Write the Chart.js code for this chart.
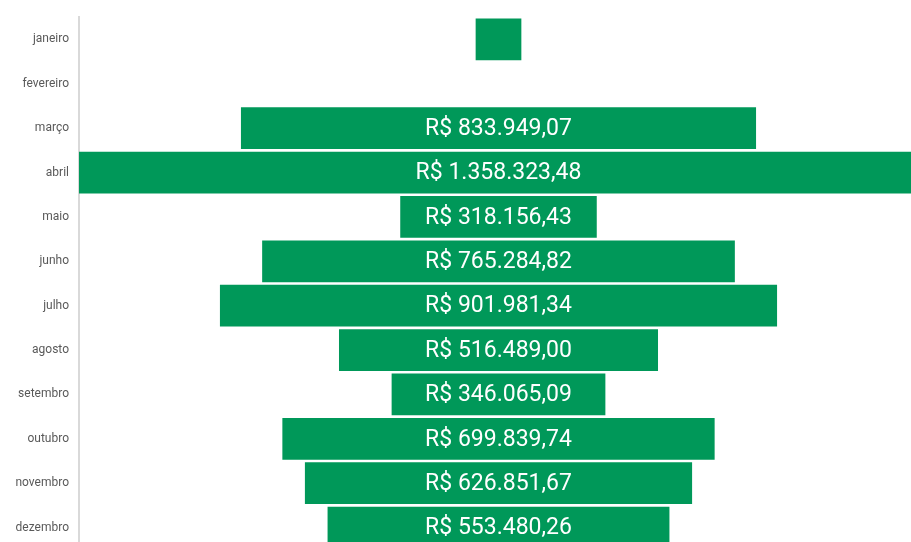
<!DOCTYPE html>
<html>
<head>
<meta charset="utf-8">
<script src="https://cdn.jsdelivr.net/npm/chart.js@4"></script>
<style>
  html, body { margin: 0; padding: 0; background: #fff; overflow: hidden; }
  #funnelChart { display: block; }
</style>
</head>
<body>
<canvas id="funnelChart" width="920" height="567"></canvas>
<script>
// Data
const months = ['janeiro', 'fevereiro', 'março', 'abril', 'maio', 'junho',
  'julho', 'agosto', 'setembro', 'outubro', 'novembro', 'dezembro'];
const totals = [74000, 0, 833949.07, 1358323.48, 318156.43, 765284.82,
  901981.34, 516489.00, 346065.09, 699839.74, 626851.67, 553480.26];

const green = '#009859';
const maxTotal = Math.max(...totals);

// Format as R$ 1.234,56
function formatBRL(v) {
  const parts = v.toFixed(2).split('.');
  const intPart = parts[0].replace(/\B(?=(\d{3})+(?!\d))/g, '.');
  return 'R$ ' + intPart + ',' + parts[1];
}

// Floating bars centred on zero make the funnel shape
const barData = totals.map(v => [-v / 2, v / 2]);

// Draw value labels inside the bars
const barLabels = {
  id: 'barLabels',
  afterDatasetsDraw(chart) {
    const ctx = chart.ctx;
    const meta = chart.getDatasetMeta(0);
    ctx.save();
    ctx.font = '23px Roboto';
    ctx.fillStyle = '#ffffff';
    ctx.textAlign = 'center';
    ctx.textBaseline = 'middle';
    meta.data.forEach((bar, i) => {
      const text = formatBRL(totals[i]);
      const w = Math.abs(bar.x - bar.base);
      if (w < ctx.measureText(text).width + 10) return;
      ctx.fillText(text, (bar.x + bar.base) / 2, bar.y + 1);
    });
    ctx.restore();
  }
};

const ctx = document.getElementById('funnelChart').getContext('2d');
let funnelChart = new Chart(ctx, {
  type: 'bar',
  data: {
    labels: months,
    datasets: [{
      data: barData,
      backgroundColor: green,
      borderWidth: 0,
      borderSkipped: false,
      barPercentage: 1,
      categoryPercentage: 0.94
    }]
  },
  options: {
    indexAxis: 'y',
    responsive: false,
    animation: false,
    layout: { padding: { top: 9, right: 2, bottom: 3, left: 0 } },
    plugins: {
      legend: { display: false },
      tooltip: { enabled: false }
    },
    scales: {
      x: {
        display: false,
        min: -maxTotal / 2,
        max: maxTotal / 2
      },
      y: {
        grid: { display: false, drawTicks: false },
        border: { display: true, color: '#d9d9d9', width: 2 },
        ticks: {
          color: '#595959',
          font: { family: 'Roboto', size: 12 },
          padding: 10
        },
        afterFit(scale) { scale.width = 79; }
      }
    }
  },
  plugins: [barLabels]
});
</script>
</body>
</html>
